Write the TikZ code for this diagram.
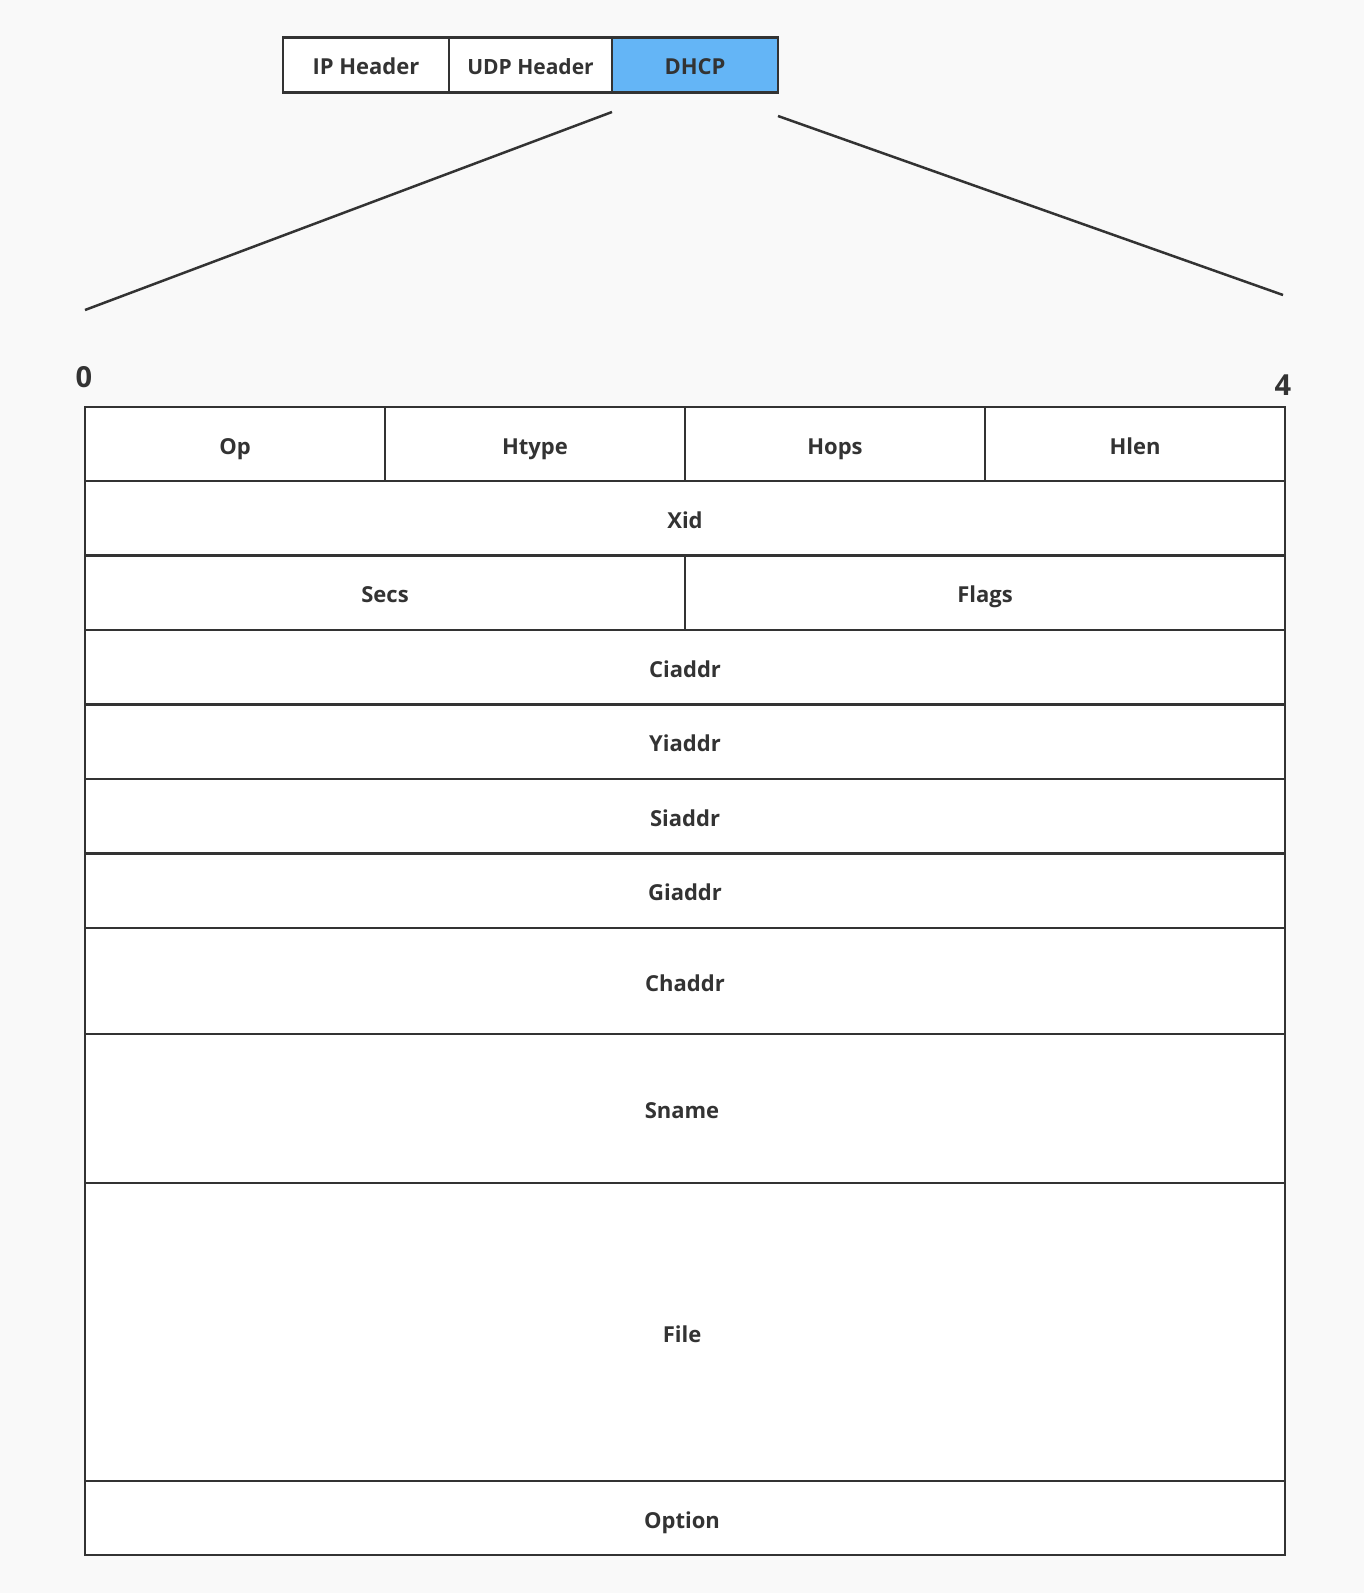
\documentclass[tikz,border=0pt]{standalone}
\usepackage{fontspec}
\setmainfont{Open Sans}
\definecolor{ink}{HTML}{333333}
\definecolor{bg}{HTML}{F9F9F9}
\definecolor{dhcpblue}{HTML}{64B5F6}
\begin{document}
\begin{tikzpicture}[x=1pt,y=-1pt,
  cell/.style={draw=ink, line width=2.5pt, fill=white, inner sep=0pt, anchor=center, text=ink, text height=20pt, text depth=0pt, font=\fontsize{22}{26}\selectfont\bfseries},
  hdr/.style={cell, text height=18pt, font=\fontsize{22}{26}\selectfont\bfseries},
  wire/.style={draw=ink, line width=2.5pt},
  idx/.style={text=ink, font=\fontsize{29}{34}\selectfont\bfseries, inner sep=0pt}]
\fill[bg] (0,0) rectangle (1364,1593);
\useasboundingbox (0,0) rectangle (1364,1593);
% packet header
\node[hdr, minimum width=166pt, minimum height=55pt] (ip) at (366,65) {IP Header};
\node[hdr, minimum width=163pt, minimum height=55pt, font=\fontsize{21}{25}\selectfont\bfseries] (udp) at (530.5,65) {UDP Header};
\node[hdr, minimum width=166pt, minimum height=55pt, fill=dhcpblue] (dhcp) at (695,65) {DHCP};
% zoom lines
\coordinate (la) at (612,112);
\coordinate (lb) at (85,310);
\coordinate (ra) at (778,116);
\coordinate (rb) at (1283,295);
\draw[wire] (la) -- (lb);
\draw[wire] (ra) -- (rb);
\node[idx] (zero) at (84,377) {0};
\node[idx] (four) at (1283,385) {4};
% table rows
\node[cell, minimum width=300pt, minimum height=74pt] (op) at (235,444) {Op};
\node[cell, minimum width=300pt, minimum height=74pt] (htype) at (535,444) {Htype};
\node[cell, minimum width=300pt, minimum height=74pt] (hops) at (835,444) {Hops};
\node[cell, minimum width=300pt, minimum height=74pt] (hlen) at (1135,444) {Hlen};
\node[cell, minimum width=1200pt, minimum height=74.5pt] (xid) at (685,518.25) {Xid};
\node[cell, minimum width=600pt, minimum height=74.5pt] (secs) at (385,592.75) {Secs};
\node[cell, minimum width=600pt, minimum height=74.5pt] (flags) at (985,592.75) {Flags};
\node[cell, minimum width=1200pt, minimum height=74.5pt] (ciaddr) at (685,667.25) {Ciaddr};
\node[cell, minimum width=1200pt, minimum height=74.5pt] (yiaddr) at (685,741.75) {Yiaddr};
\node[cell, minimum width=1200pt, minimum height=74.5pt] (siaddr) at (685,816.25) {Siaddr};
\node[cell, minimum width=1200pt, minimum height=74.5pt] (giaddr) at (685,890.75) {Giaddr};
\node[cell, minimum width=1200pt, minimum height=106pt] (chaddr) at (685,981) {Chaddr};
\node[cell, minimum width=1200pt, minimum height=149pt] (sname) at (685,1108.5) {\hspace*{-6pt}Sname};
\node[cell, minimum width=1200pt, minimum height=298pt] (file) at (685,1332) {\hspace*{-6pt}File};
\node[cell, minimum width=1200pt, minimum height=74pt] (option) at (685,1518) {\hspace*{-6pt}Option};
\end{tikzpicture}
\end{document}
